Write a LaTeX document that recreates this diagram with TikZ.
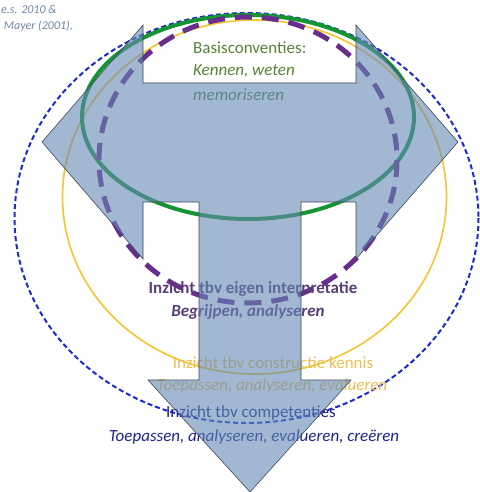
\documentclass[tikz,border=0pt]{standalone}
\usepackage{fontspec}
\setmainfont{Carlito}
\usepackage{xcolor}
\definecolor{tarrow}{RGB}{100,135,180}
\definecolor{tedge}{RGB}{60,74,92}
\definecolor{basisgreen}{RGB}{22,148,50}
\definecolor{basistext}{RGB}{88,132,52}
\definecolor{eigenpurple}{RGB}{104,46,140}
\definecolor{eigentext}{RGB}{88,62,120}
\definecolor{constrgold}{RGB}{246,196,48}
\definecolor{constrtext}{RGB}{236,190,84}
\definecolor{compblue}{RGB}{28,40,210}
\definecolor{comptext}{RGB}{28,36,140}
\definecolor{refgrey}{RGB}{112,134,166}

\begin{document}
\begin{tikzpicture}[x=1pt, y=-1pt,
    lbl/.style={inner sep=0pt, font=\fontsize{17}{20}\selectfont},
    lvl/.style={line width=#1},
]
\useasboundingbox (0,0) rectangle (479,492);

% levels, outer to inner
\draw[compblue, lvl=2pt, dash pattern=on 5pt off 3pt] (246.5,218) ellipse (232 and 205);
\draw[constrgold, lvl=1.6pt] (254.5,197) ellipse (192 and 177);
\draw[basisgreen, lvl=4pt] (248,117) ellipse (166 and 102);
\draw[eigenpurple, lvl=5pt, dash pattern=on 17pt off 10pt] (248,160) ellipse (149 and 143);

% labels
\node[lbl, anchor=west, text=basistext] (basis) at (193,48) {Basisconventies:};
\node[lbl, anchor=west, text=basistext] (kennen) at (193,71) {\itshape Kennen, weten};
\node[lbl, anchor=west, text=basistext] (memo) at (193,95) {\itshape memoriseren};
\node[lbl, text=eigentext] (eigen) at (253,289) {\bfseries Inzicht tbv eigen interpretatie};
\node[lbl, text=eigentext] (begrijpen) at (248,312) {\bfseries\itshape Begrijpen, analyseren};
\node[lbl, text=constrtext] (constr) at (273,363) {Inzicht tbv constructie kennis};
\node[lbl, text=constrtext] (toep1) at (272,386) {\itshape Toepassen, analyseren, evalueren};
\node[lbl, text=comptext] (comp) at (251,413) {Inzicht tbv competenties};
\node[lbl, text=comptext] (toep2) at (254,437) {\itshape Toepassen, analyseren, evalueren, creëren};

% T-shaped arrow
\coordinate (L) at (42,142);
\coordinate (R) at (458,142);
\coordinate (D) at (250,492);
\fill[tarrow, fill opacity=0.6] (L) -- (143,25) -- (143,83) -- (356,83) -- (356,25) -- (R)
    -- (356,259) -- (356,202) -- (301,202) -- (301,380) -- (351,380) -- (D)
    -- (148,380) -- (199,380) -- (199,202) -- (143,202) -- (143,259) -- cycle;
\draw[tedge, line width=0.6pt, line join=miter] (L) -- (143,25) -- (143,83) -- (356,83) -- (356,25) -- (R)
    -- (356,259) -- (356,202) -- (301,202) -- (301,380) -- (351,380) -- (D)
    -- (148,380) -- (199,380) -- (199,202) -- (143,202) -- (143,259) -- cycle;

% reference
\node[inner sep=0pt, anchor=west, text=refgrey, font=\fontsize{12}{14}\selectfont\itshape] (ref1) at (1,9) {e.s. 2010 \&};
\node[inner sep=0pt, anchor=east, text=refgrey, font=\fontsize{12}{14}\selectfont\itshape] (ref2) at (73,26) {Mayer (2001),};
\end{tikzpicture}
\end{document}
